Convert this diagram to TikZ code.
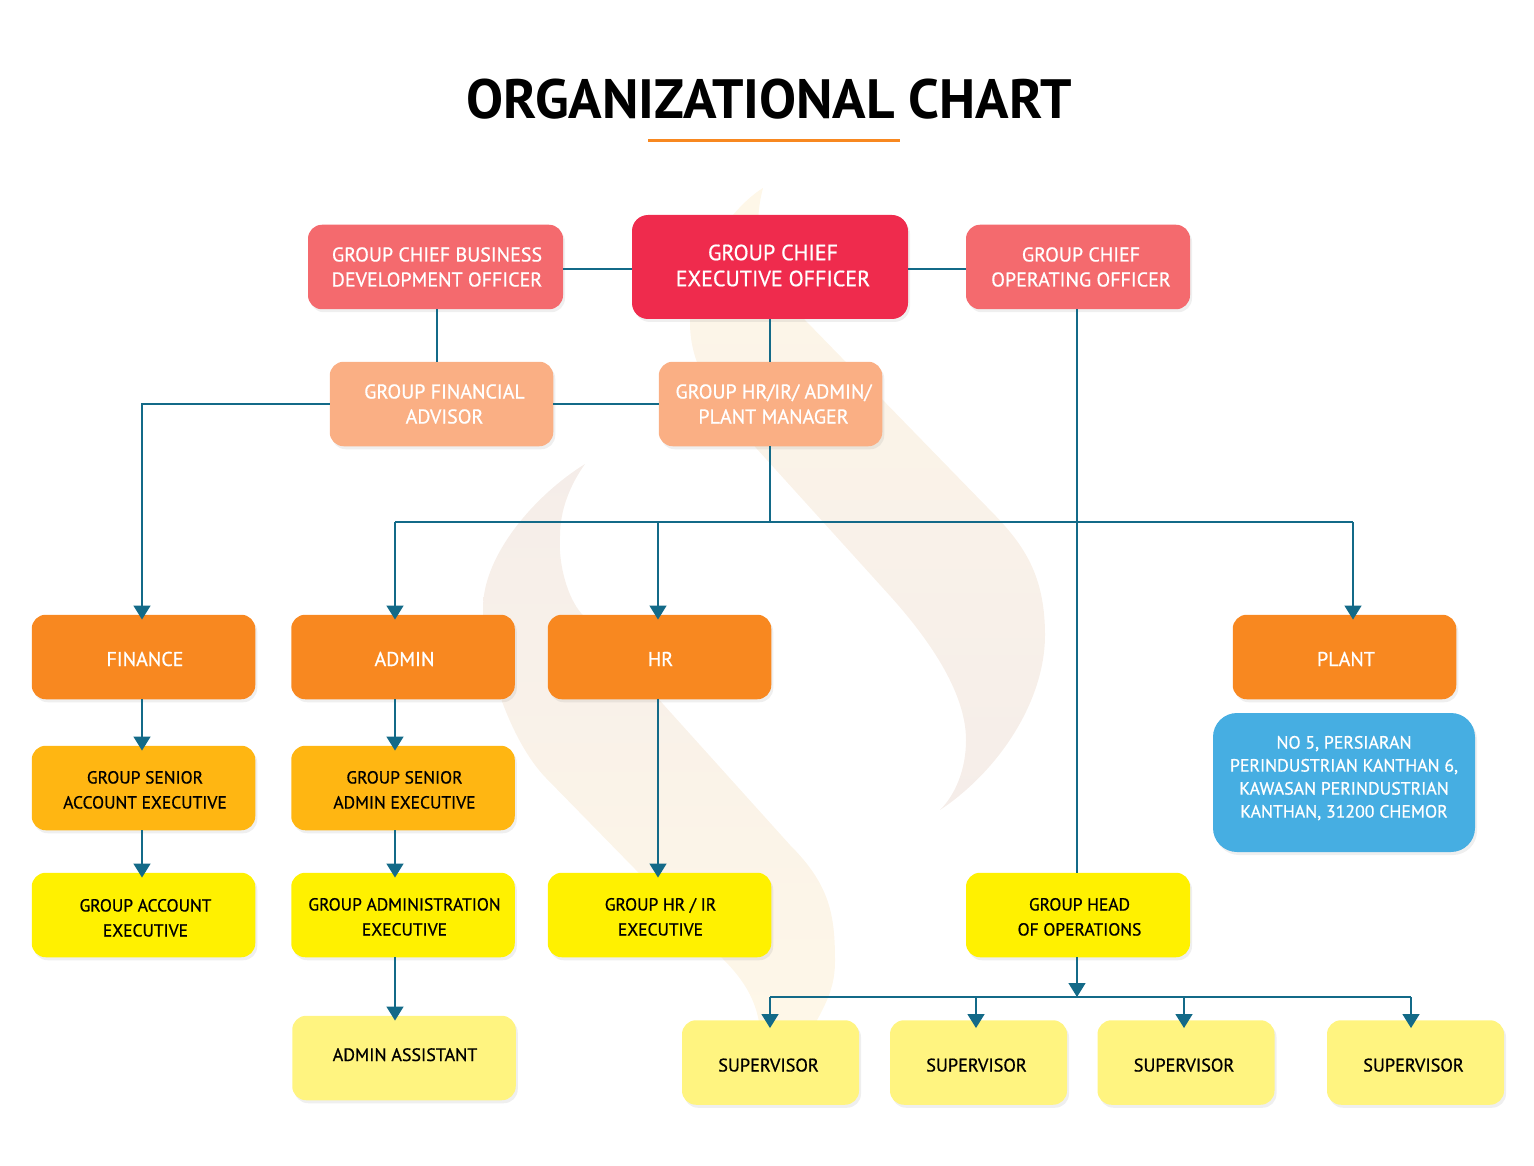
\documentclass[tikz,border=0pt]{standalone}
\usepackage{fontspec}
\setmainfont{PT Sans}
\newfontfamily\labelfont[FakeBold=0.7]{PT Sans}
\usetikzlibrary{arrows.meta}
\usetikzlibrary{shadows}
\definecolor{linkteal}{RGB}{19,106,136}
\definecolor{ceored}{RGB}{239,43,77}
\definecolor{chiefrose}{RGB}{244,106,110}
\definecolor{advisorpeach}{RGB}{250,175,132}
\definecolor{deptorange}{RGB}{248,136,32}
\definecolor{seniorgold}{RGB}{255,182,18}
\definecolor{execyellow}{RGB}{255,241,0}
\definecolor{assistyellow}{RGB}{255,244,128}
\definecolor{plantblue}{RGB}{70,174,226}
\definecolor{swooshcream}{RGB}{254,247,232}
\definecolor{swooshpink}{RGB}{245,237,233}
% text set off centre inside a box: right and down, in pt
\newcommand{\lab}[3]{\raisebox{0pt}[\dimexpr\height\ifdim#2pt>0pt+2\dimexpr#2pt\relax\fi\relax][\dimexpr\depth\ifdim#2pt<0pt-2\dimexpr#2pt\relax\fi\relax]{\ifdim#1pt>0pt\hspace*{2\dimexpr#1pt\relax}\fi\begin{tabular}{@{}c@{}}#3\end{tabular}\ifdim#1pt<0pt\hspace*{-2\dimexpr#1pt\relax}\fi}}
\tikzset{
	box/.style={rounded corners=14pt,inner sep=0pt,minimum height=84.5pt,
		drop shadow={opacity=.13,shadow xshift=2pt,shadow yshift=-3pt}},
	wide box/.style={box,minimum width=223.5pt},
	chief/.style={box,fill=chiefrose,text=white,font=\labelfont\fontsize{20}{25}\selectfont},
	advisor/.style={wide box,fill=advisorpeach,text=white,font=\labelfont\fontsize{20}{25}\selectfont},
	dept/.style={wide box,fill=deptorange,text=white,font=\labelfont\fontsize{20}{25}\selectfont},
	senior/.style={wide box,fill=seniorgold,text=black,font=\labelfont\fontsize{17.5}{25}\selectfont},
	exec/.style={wide box,fill=execyellow,text=black,font=\labelfont\fontsize{17.5}{25}\selectfont},
	assist/.style={wide box,fill=assistyellow,text=black,font=\labelfont\fontsize{18}{25}\selectfont},
	super/.style={assist,minimum width=177pt,font=\labelfont\fontsize{18.3}{25}\selectfont},
	link/.style={draw=linkteal,line width=1.5pt},
	flow/.style={link,-{Triangle[length=14pt,width=17pt]},shorten >=-5pt}
}
\begin{document}
\begin{tikzpicture}[x=1pt,y=-1pt]
	\useasboundingbox (0,0) rectangle (1534,1166);
	% watermark
	\path[top color=swooshcream,middle color=swooshcream,bottom color=swooshpink]
		(763,188) .. controls (735,205) and (690,260) .. (690,323)
		.. controls (690,375) and (725,412) .. (757,449)
		-- (891,597) .. controls (925,635) and (966,690) .. (966,740)
		.. controls (966,770) and (955,795) .. (940,810)
		.. controls (1000,770) and (1045,700) .. (1045,635)
		.. controls (1045,570) and (1020,540) .. (985,505)
		-- (805,320)
		.. controls (770,285) and (748,245) .. (763,188) -- cycle;
	\path[top color=swooshpink,middle color=swooshcream,bottom color=swooshcream]
		(585,464) .. controls (535,495) and (483,555) .. (483,608)
		.. controls (483,660) and (510,741) .. (546,778)
		-- (723,959) .. controls (745,981) and (755,1000) .. (759,1022)
		-- (816,1022) .. controls (828,1000) and (835,985) .. (835,961)
		.. controls (835,915) and (830,885) .. (790,845)
		-- (581,613)
		.. controls (568,598) and (558,565) .. (560,536)
		.. controls (560,510) and (570,485) .. (585,464) -- cycle;
	% title
	\node[font=\bfseries\fontsize{55.4}{60}\selectfont] (title) at (769,99) {ORGANIZATIONAL CHART};
	\coordinate (ruleL) at (648,141);
	\coordinate (ruleR) at (900,141);
	\draw[draw=deptorange,line width=3pt] (ruleL) -- (ruleR);
	% top rows
	\node[box,fill=ceored,text=white,minimum width=276pt,minimum height=104pt,rounded corners=16pt,
		font=\labelfont\fontsize{22}{26}\selectfont] (ceo) at (770,267) {\lab{3}{1}{GROUP CHIEF\\EXECUTIVE OFFICER}};
	\node[chief,minimum width=255pt] (cbdo) at (435.5,267) {\lab{1.5}{2}{GROUP CHIEF BUSINESS\\DEVELOPMENT OFFICER}};
	\node[chief,minimum width=224pt] (coo) at (1078,267) {\lab{3}{2}{GROUP CHIEF\\OPERATING OFFICER}};
	\node[advisor] (gfa) at (441.5,404) {\lab{3}{2}{GROUP FINANCIAL\\ADVISOR}};
	\node[advisor] (hrm) at (770.5,404) {\lab{3}{2}{GROUP HR/IR/ ADMIN/\\PLANT MANAGER}};
	% departments
	\node[dept] (finance) at (143.5,657) {\lab{1.5}{4}{FINANCE}};
	\node[dept] (admin) at (403,657) {\lab{1.5}{4}{ADMIN}};
	\node[dept] (hr) at (659.5,657) {\lab{1}{4}{HR}};
	\node[dept] (plant) at (1344.5,657) {\lab{1.5}{4}{PLANT}};
	\node[box,fill=plantblue,text=white,minimum width=262pt,minimum height=139pt,rounded corners=24pt,
		font=\labelfont\fontsize{17.8}{23}\selectfont] (addr) at (1344,782.5)
		{\lab{0}{-4}{NO 5, PERSIARAN\\PERINDUSTRIAN KANTHAN 6,\\KAWASAN PERINDUSTRIAN\\KANTHAN, 31200 CHEMOR}};
	% executives
	\node[senior] (seniorA) at (143.5,788) {\lab{1.5}{3}{GROUP SENIOR\\ACCOUNT EXECUTIVE}};
	\node[senior] (seniorB) at (403,788) {\lab{1.5}{3}{GROUP SENIOR\\ADMIN EXECUTIVE}};
	\node[exec] (account) at (143.5,915) {\lab{2}{4}{GROUP ACCOUNT\\EXECUTIVE}};
	\node[exec] (adminexec) at (403,915) {\lab{1.5}{3}{GROUP ADMINISTRATION\\EXECUTIVE}};
	\node[exec] (hrexec) at (659.5,915) {\lab{1}{3}{GROUP HR / IR\\EXECUTIVE}};
	\node[exec,minimum width=224pt] (head) at (1078,915) {\lab{1.5}{3}{GROUP HEAD\\OF OPERATIONS}};
	\node[assist] (assistant) at (404,1058) {\lab{1}{-2}{ADMIN ASSISTANT}};
	\node[super] (supA) at (770.5,1062.5) {\lab{-2}{4}{SUPERVISOR}};
	\node[super] (supB) at (978.5,1062.5) {\lab{-2}{4}{SUPERVISOR}};
	\node[super] (supC) at (1186,1062.5) {\lab{-2}{4}{SUPERVISOR}};
	\node[super] (supD) at (1415.5,1062.5) {\lab{-2}{4}{SUPERVISOR}};
	% links
	\draw[link] ([yshift=-2pt]cbdo.east) -- ([yshift=-2pt]ceo.west);
	\draw[link] ([yshift=-2pt]ceo.east) -- ([yshift=-2pt]coo.west);
	\draw[link] (ceo.south) -- (hrm.north -| ceo.south);
	\draw[link] ([xshift=1.5pt]cbdo.south) -- ([xshift=1.5pt]cbdo.south |- gfa.north);
	\draw[link] (gfa.east) -- (hrm.west);
	\draw[flow] (gfa.west) -| ([xshift=-1.5pt]finance.north);
	\coordinate (busA) at (395,522);
	\coordinate (busB) at (658,522);
	\coordinate (busC) at (770,522);
	\coordinate (busD) at (1353,522);
	\draw[link] (hrm.south -| busC) -- (busC);
	\draw[link] (busA) -- (busD);
	\draw[flow] (busA) -- (busA |- admin.north);
	\draw[flow] (busB) -- (busB |- hr.north);
	\draw[flow] (busD) -- (busD |- plant.north);
	\draw[link] ([xshift=-1pt]coo.south) -- ([xshift=-1pt]head.north);
	\draw[flow] ([xshift=-1.5pt]finance.south) -- ([xshift=-1.5pt]seniorA.north);
	\draw[flow] ([xshift=-1.5pt]seniorA.south) -- ([xshift=-1.5pt]account.north);
	\draw[flow] ([xshift=-8pt]admin.south) -- ([xshift=-8pt]seniorB.north);
	\draw[flow] ([xshift=-8pt]seniorB.south) -- ([xshift=-8pt]adminexec.north);
	\draw[flow] ([xshift=-8pt]adminexec.south) -- ([xshift=-9pt]assistant.north);
	\draw[flow] ([xshift=-1.5pt]hr.south) -- ([xshift=-1.5pt]hrexec.north);
	% supervisors
	\coordinate (supbus) at (1077,997);
	\draw[link,-{Triangle[length=14pt,width=17pt]}] ([xshift=-1pt]head.south) -- (supbus);
	\coordinate (tapA) at (770,997);
	\coordinate (tapB) at (976,997);
	\coordinate (tapC) at (1184,997);
	\coordinate (tapD) at (1411,997);
	\draw[link] (tapA) -- (tapD);
	\draw[flow,shorten >=-8pt] (tapA) -- (tapA |- supA.north);
	\draw[flow,shorten >=-8pt] (tapB) -- (tapB |- supB.north);
	\draw[flow,shorten >=-8pt] (tapC) -- (tapC |- supC.north);
	\draw[flow,shorten >=-8pt] (tapD) -- (tapD |- supD.north);
\end{tikzpicture}
\end{document}
